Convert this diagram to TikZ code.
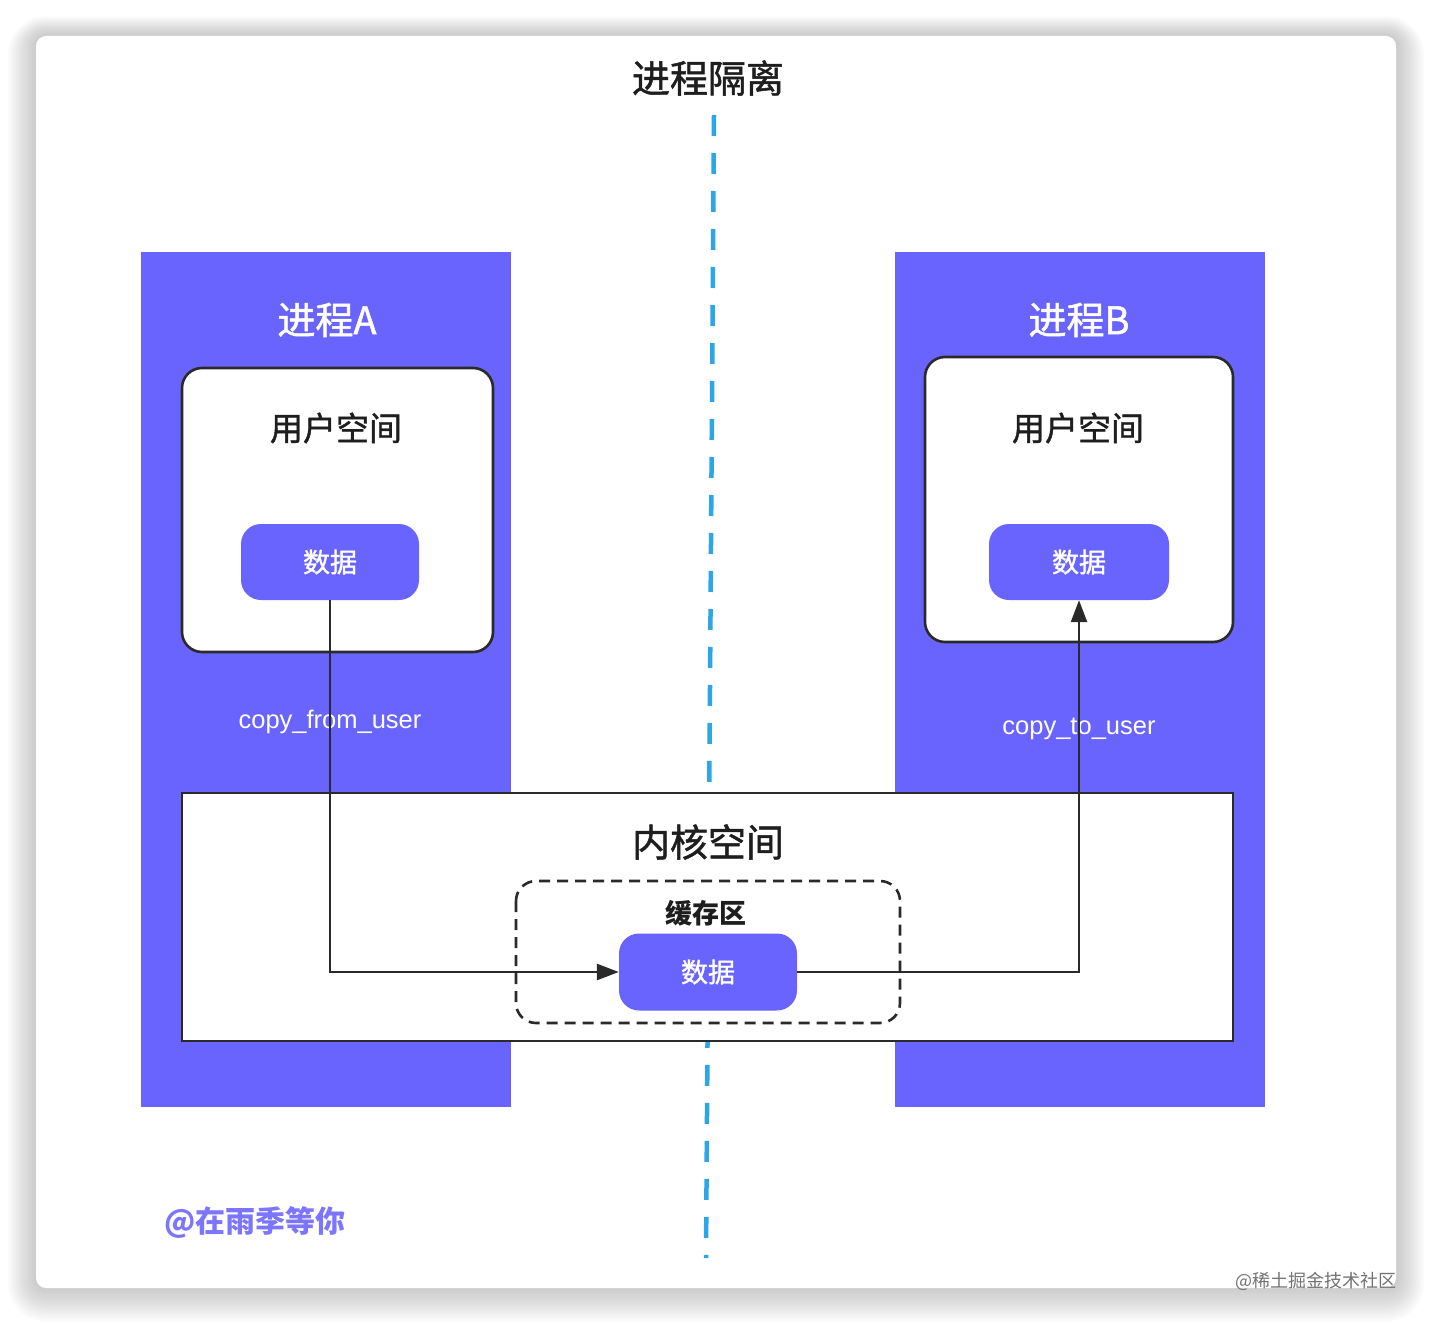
\documentclass[tikz,border=0pt]{standalone}
\usepackage{fontspec}
\setmainfont{Noto Sans CJK SC}
\newfontfamily\medfont[FakeBold=1.3]{Noto Sans CJK SC}
\newfontfamily\latinsans{Liberation Sans}
\usetikzlibrary{arrows.meta}
\definecolor{purp}{HTML}{6A64FF}
\definecolor{dashblue}{HTML}{2BA6E9}
\definecolor{txt}{HTML}{1E1E1E}
\definecolor{edge}{HTML}{2A2A2A}
\definecolor{wm}{HTML}{7C75FF}
\tikzset{
  proc/.style={fill=purp, draw=none},
  ubox/.style={fill=white, draw=edge, line width=2.6pt, rounded corners=20pt},
  databox/.style={fill=purp, draw=none, rounded corners=20pt, text=white, font=\medfont\fontsize{27}{30}\selectfont},
  wtitle/.style={text=white, font=\medfont\fontsize{38}{42}\selectfont},
  btitle/.style={text=txt, font=\medfont\fontsize{33}{38}\selectfont},
  clabel/.style={text=white, font=\latinsans\fontsize{25.5}{28}\selectfont},
  flow/.style={draw=edge, line width=2.6pt, -{Triangle[length=22pt,width=16pt]}},
}
\begin{document}
\begin{tikzpicture}[x=1pt,y=-1pt]
\useasboundingbox (0,0) rectangle (1432,1324);
% card shadow
\foreach \i in {1,...,14}{
  \pgfmathsetmacro{\rr}{10+2*\i}
  \fill[black, opacity=0.016, rounded corners=\rr pt] ({36-2*\i},{36-1.4*\i}) rectangle ({1396+2*\i},{1288+2.4*\i});
}
\fill[white, rounded corners=10pt] (36,36) rectangle (1396,1288);
% title
\node[text=txt, font=\medfont\fontsize{38}{42}\selectfont] (title) at (708,78) {进程隔离};
% isolation line
\coordinate (lt) at (714,115);
\coordinate (lb) at (706,1258);
\draw[dashblue, line width=4.5pt, dash pattern=on 21pt off 17pt] (lt) -- (lb);
% process columns
\fill[proc] (141,252) rectangle (511,1107);
\fill[proc] (895,252) rectangle (1265,1107);
\node[wtitle] (pa) at (327,320) {进程A};
\node[wtitle] (pb) at (1079,320) {进程B};
% user space boxes
\draw[ubox] (182,368) rectangle (493,652);
\draw[ubox] (925,357) rectangle (1233,642);
\node[btitle] (ua) at (336,428) {用户空间};
\node[btitle] (ub) at (1078,428) {用户空间};
% data boxes
\node[databox, minimum width=178pt, minimum height=76pt] (da) at (330,562) {数据};
\node[databox, minimum width=180pt, minimum height=76pt] (db) at (1079,562) {数据};
% labels
\node[clabel] (cfu) at (330,722) {copy\_from\_user};
\node[clabel] (ctu) at (1079,729) {copy\_to\_user};
% kernel space
\draw[fill=white, draw=edge, line width=2.6pt] (182,793) rectangle (1233,1041);
\node[text=txt, font=\medfont\fontsize{38}{42}\selectfont] (ks) at (708,842) {内核空间};
\draw[draw=edge, line width=2.6pt, dash pattern=on 11pt off 7pt, rounded corners=20pt] (516,881) rectangle (900,1023);
\node[text=txt, font=\fontsize{27}{30}\selectfont\bfseries] (buf) at (706,913) {缓存区};
\node[databox, minimum width=178pt, minimum height=77pt] (dc) at (708,972) {数据};
% flows
\draw[flow] (da.south) |- (dc.west);
\draw[flow] (dc.east) -| (db.south);
% watermarks
\node[text=wm, font=\fontsize{30}{34}\selectfont\bfseries] (wm1) at (255,1222) {@在雨季等你};
\node[text=black!55, font=\fontsize{18}{20}\selectfont, anchor=east] (wm2) at (1400,1281) {@稀土掘金技术社区};
\end{tikzpicture}
\end{document}
